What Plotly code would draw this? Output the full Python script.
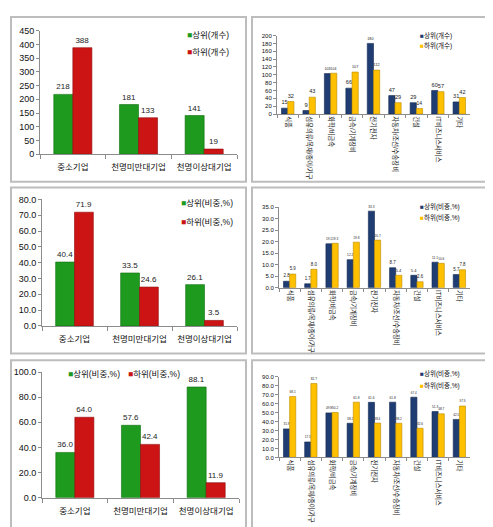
import plotly.graph_objects as go

W, H = 493, 527

size_cats = ["중소기업", "천명미만대기업", "천명이상대기업"]
ind_cats = ["식품", "섬유의류/목재/종이/가구", "화학/비금속", "금속/기계장비", "전기전자",
            "자동차/조선/수송장비", "건설", "IT비즈니스서비스", "기타"]

size_top_cnt = [218, 181, 141]
size_bot_cnt = [388, 133, 19]
ind_top_cnt = [15, 9, 103, 66, 180, 47, 29, 60, 31]
ind_bot_cnt = [32, 43, 104, 107, 112, 29, 14, 57, 42]

size_top_share = [40.4, 33.5, 26.1]
size_bot_share = [71.9, 24.6, 3.5]
ind_top_share = [2.8, 1.7, 19.1, 12.2, 33.3, 8.7, 5.4, 11.1, 5.7]
ind_bot_share = [5.9, 8.0, 19.3, 19.8, 20.7, 5.4, 2.6, 10.6, 7.8]

size_top_ratio = [36.0, 57.6, 88.1]
size_bot_ratio = [64.0, 42.4, 11.9]
ind_top_ratio = [31.9, 17.3, 49.8, 38.2, 61.6, 61.8, 67.4, 51.3, 42.5]
ind_bot_ratio = [68.1, 82.7, 50.2, 61.8, 38.4, 38.2, 32.6, 48.7, 57.5]

name_cnt = ["상위(개수)", "하위(개수)"]
name_pct = ["상위(비중,%)", "하위(비중,%)"]

GREEN, GREEN_L = "#1E9A1E", "#0E6E0E"
RED, RED_L = "#CC1414", "#8E0A0A"
BLUE, BLUE_L = "#1F3D73", "#13284F"
YEL, YEL_L = "#FFC000", "#B88A00"

FONT = "Liberation Sans, Arial, Noto Sans CJK KR"
LEG_OFF = 47  # px between legend box left and its text start


def px(x):
    return x / W


def py(y):
    return 1 - y / H


# (cats, top, bottom, names, scheme, x-domain px, y-domain px(top,bottom), ymax, dtick, fmt, small,
#  legend (square-x, center-y) px)
panels = [
    (size_cats, size_top_cnt, size_bot_cnt, name_cnt, "lr", (32, 229), (18, 144), 450, 50, "%{y:d}", False,
     [(186, 22), (186, 39)]),
    (ind_cats, ind_top_cnt, ind_bot_cnt, name_cnt, "by", (269, 462), (23, 103), 200, 20, "%{y:d}", True,
     [(419, 23), (419, 33)]),
    (size_cats, size_top_share, size_bot_share, name_pct, "lr", (34, 229), (190, 319), 80, 10, "%{y:.1f}", False,
     [(180, 193), (180, 213)]),
    (ind_cats, ind_top_share, ind_bot_share, name_pct, "by", (271, 462), (198, 280), 35, 5, "%{y:.1f}", True,
     [(419, 197), (419, 208)]),
    (size_cats, size_top_ratio, size_bot_ratio, name_pct, "lr", (34, 231), (366, 494), 100, 20, "%{y:.1f}", False,
     [(67, 368), (127, 368)]),
    (ind_cats, ind_top_ratio, ind_bot_ratio, name_pct, "by", (271, 462), (371, 453), 90, 10, "%{y:.1f}", True,
     [(419, 367), (419, 380)]),
]

fig = go.Figure()
layout = {}
legend_idx = 0
for i, (cats, top, bot, names, scheme, xd, yd, ymax, dt, fmt, small, legpos) in enumerate(panels):
    n = i + 1
    xa = "x" if n == 1 else f"x{n}"
    ya = "y" if n == 1 else f"y{n}"
    c1, l1, c2, l2 = (GREEN, GREEN_L, RED, RED_L) if scheme == "lr" else (BLUE, BLUE_L, YEL, YEL_L)
    lab_size = 5.8 if small else 8
    for j, (vals, col, lc) in enumerate([(top, c1, l1), (bot, c2, l2)]):
        legend_idx += 1
        lname = "legend" if legend_idx == 1 else f"legend{legend_idx}"
        grp = f"g{n}_{j}"
        fig.add_trace(go.Bar(
            x=cats, y=vals, name=names[j], xaxis=xa, yaxis=ya,
            marker=dict(color=col, line=dict(color=lc, width=0.6)),
            texttemplate=fmt, textposition="outside", cliponaxis=False,
            textfont=dict(size=lab_size, color="#222222", family=FONT),
            legendgroup=grp, showlegend=False,
        ))
        # legend entry: coloured square glyph kept right next to the text
        fig.add_trace(go.Scatter(
            x=[None], y=[None], mode="markers", xaxis=xa, yaxis=ya,
            marker=dict(color="rgba(0,0,0,0)", size=1, line=dict(width=0)),
            name=f'<span style="color:{col}">■</span>{names[j]}',
            legend=lname, legendgroup=grp, showlegend=True, hoverinfo="skip",
        ))
        lx, ly = legpos[j]
        layout[lname] = dict(
            x=px(lx - LEG_OFF), y=py(ly), xanchor="left", yanchor="middle",
            bgcolor="rgba(0,0,0,0)", borderwidth=0,
            font=dict(size=6.5 if small else 8.5, family=FONT, color="#111111"),
            itemwidth=30, tracegroupgap=0,
        )
    xk = "xaxis" if n == 1 else f"xaxis{n}"
    yk = "yaxis" if n == 1 else f"yaxis{n}"
    layout[xk] = dict(
        domain=[px(xd[0]), px(xd[1])], anchor=ya, type="category",
        showline=True, linecolor="#8C8C8C", linewidth=1,
        ticks="outside", tickson="boundaries", ticklen=3 if small else 4, tickcolor="#8C8C8C",
        tickangle=90 if small else 0,
        ticklabelstandoff=0 if small else 5,
        tickfont=dict(size=6.3 if small else 8.5, family=FONT, color="#111111"),
        showgrid=False, fixedrange=True,
    )
    layout[yk] = dict(
        domain=[py(yd[1]), py(yd[0])], anchor=xa, range=[0, ymax], dtick=dt,
        tickformat="d" if fmt == "%{y:d}" else ".1f",
        showline=True, linecolor="#8C8C8C", linewidth=1,
        ticks="outside", ticklen=3, tickcolor="#8C8C8C",
        tickfont=dict(size=6 if small else 9, family=FONT, color="#111111"),
        showgrid=False, zeroline=False, fixedrange=True,
    )

fig.update_layout(**layout)
fig.update_layout(
    width=W, height=H, margin=dict(l=0, r=0, t=0, b=0),
    paper_bgcolor="white", plot_bgcolor="white",
    barmode="group", bargap=0.42, bargroupgap=0.0,
    font=dict(family=FONT),
)

boxes = [(3, 4, 238, 172), (244, 4, 478, 172),
         (3, 178, 238, 347), (244, 178, 478, 347),
         (3, 354, 238, 525), (244, 354, 478, 525)]
for (x0, y0, x1, y1) in boxes:
    fig.add_shape(type="rect", xref="paper", yref="paper",
                  x0=px(x0), x1=px(x1), y0=py(y1), y1=py(y0),
                  line=dict(color="#BDBDBD", width=2), fillcolor="rgba(0,0,0,0)", layer="below")

fig.write_html("out.html")
